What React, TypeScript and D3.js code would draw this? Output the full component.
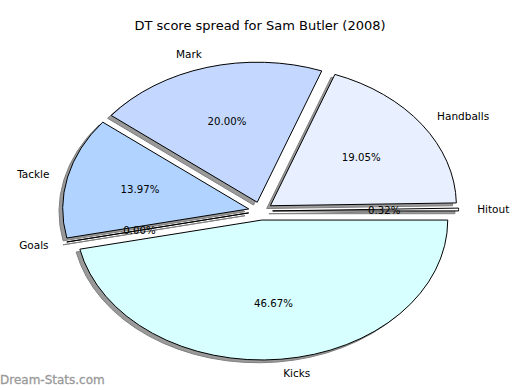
import * as d3 from "d3";

// DT points per stat, matplotlib order (counter-clockwise from east)
const labels = ["Hitout", "Handballs", "Mark", "Tackle", "Goals", "Kicks"];
const points = [1, 60, 63, 44, 0, 147];
const colors = ["#ffffff", "#e8f0ff", "#c4d8ff", "#b0d4ff", "#c8e4ff", "#d8ffff"];

const W = 520;
const H = 390;
const cx = 260.5;
const cy = 211;
const rx = 186;
const ry = 140;
const explode = 0.065;

export default function App() {
  const total = d3.sum(points);
  const pie = d3
    .pie<number>()
    .sort(null)
    .startAngle(Math.PI / 2)
    .endAngle(Math.PI / 2 - 2 * Math.PI);
  const arcs = pie(points);
  const arc = d3.arc<d3.PieArcDatum<number>>().innerRadius(0).outerRadius(1);

  const slices = arcs.map((a, i) => {
    const mid = (a.startAngle + a.endAngle) / 2;
    const ux = Math.sin(mid);
    const uy = -Math.cos(mid);
    const ox = cx + explode * rx * ux;
    const oy = cy + explode * ry * uy;
    return { a, i, ux, uy, ox, oy };
  });

  const font = "DejaVu Sans, sans-serif";

  return (
    <svg
      width={W}
      height={H}
      style={{ position: "absolute", left: 0, top: 0, background: "#fff" }}
      fontFamily={font}
    >
      <text x={260} y={30} textAnchor="middle" fontSize={13} fill="#000">
        DT score spread for Sam Butler (2008)
      </text>

      {/* shadows */}
      {slices.map((s) => (
        <g
          key={"sh" + s.i}
          transform={`translate(${s.ox - 3.7},${s.oy + 2.8}) scale(${rx},${ry})`}
        >
          <path
            d={arc(s.a) ?? ""}
            fill="#9a9a9a"
            stroke="#808080"
            strokeWidth={1}
            vectorEffect="non-scaling-stroke"
          />
        </g>
      ))}

      {/* wedges */}
      {slices.map((s) => (
        <g
          key={"w" + s.i}
          transform={`translate(${s.ox},${s.oy}) scale(${rx},${ry})`}
        >
          <path
            d={arc(s.a) ?? ""}
            fill={colors[s.i]}
            stroke="#000"
            strokeWidth={1}
            strokeLinejoin="round"
            vectorEffect="non-scaling-stroke"
          />
        </g>
      ))}

      {/* category labels */}
      {slices.map((s) => (
        <text
          key={"l" + s.i}
          x={s.ox + 1.1 * rx * s.ux}
          y={s.oy + 1.1 * ry * s.uy}
          textAnchor={s.ux >= 0 ? "start" : "end"}
          dominantBaseline="central"
          fontSize={10.5}
          fill="#000"
        >
          {labels[s.i]}
        </text>
      ))}

      {/* percentages */}
      {slices.map((s) => (
        <text
          key={"p" + s.i}
          x={s.ox + 0.6 * rx * s.ux}
          y={s.oy + 0.6 * ry * s.uy}
          textAnchor="middle"
          dominantBaseline="central"
          fontSize={10.2}
          fill="#000"
        >
          {((points[s.i] / total) * 100).toFixed(2) + "%"}
        </text>
      ))}

      <text x={0} y={384} fontSize={12} fill="#999999" stroke="#999999" strokeWidth={0.3}>
        Dream-Stats.com
      </text>
    </svg>
  );
}
